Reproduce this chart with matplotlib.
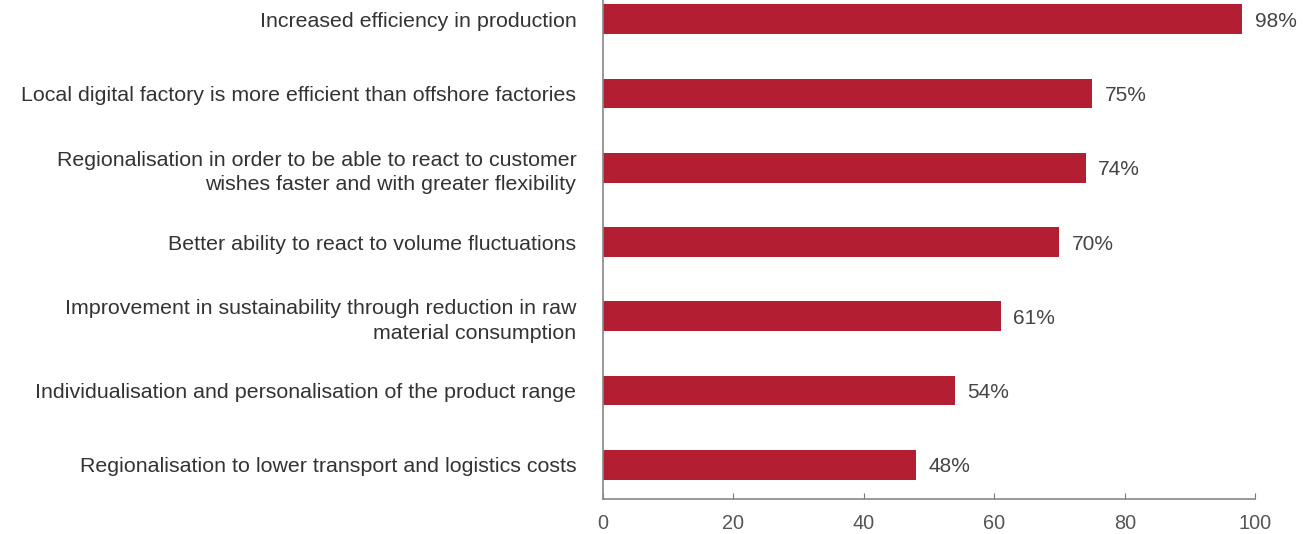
import matplotlib
matplotlib.use("Agg")
import matplotlib.pyplot as plt

# survey answers, top to bottom
labels = [
    "Increased efficiency in production",
    "Local digital factory is more efficient than offshore factories",
    "Regionalisation in order to be able to react to customer\nwishes faster and with greater flexibility",
    "Better ability to react to volume fluctuations",
    "Improvement in sustainability through reduction in raw\nmaterial consumption",
    "Individualisation and personalisation of the product range",
    "Regionalisation to lower transport and logistics costs",
]
values = [98, 75, 74, 70, 61, 54, 48]
x_ticks = [0, 20, 40, 60, 80, 100]

plt.rcParams['font.family'] = ['Liberation Sans', 'DejaVu Sans']

bar_color = '#b31e32'
text_color = '#333333'

fig = plt.figure(figsize=(13.13, 5.34), dpi=100)
ax = fig.add_axes([0.459, 0.0655, 0.497, 0.9345])

pos = list(range(len(values)))
ax.barh(pos, values, height=0.4, color=bar_color)
for p, v in zip(pos, values):
    ax.text(v + 1.9, p, f"{v}%", va='center_baseline', ha='left', fontsize=15, color='#444444')

ax.set_yticks(pos)
ax.set_yticklabels(labels, fontsize=15.4, color=text_color, linespacing=1.35)
ax.set_ylim(len(values) - 1 + 0.46, -0.26)
ax.set_xlim(0, 100)
ax.set_xticks(x_ticks)
ax.set_xticklabels([str(t) for t in x_ticks], fontsize=14.3, color='#555555')

ax.tick_params(axis='y', length=0, pad=19)
ax.tick_params(axis='x', direction='in', length=4, color='#777777', pad=11)
for side in ('top', 'right'):
    ax.spines[side].set_visible(False)
for side in ('left', 'bottom'):
    ax.spines[side].set_color('#888888')
    ax.spines[side].set_linewidth(1.2)

fig.savefig("out.png", dpi=100)
